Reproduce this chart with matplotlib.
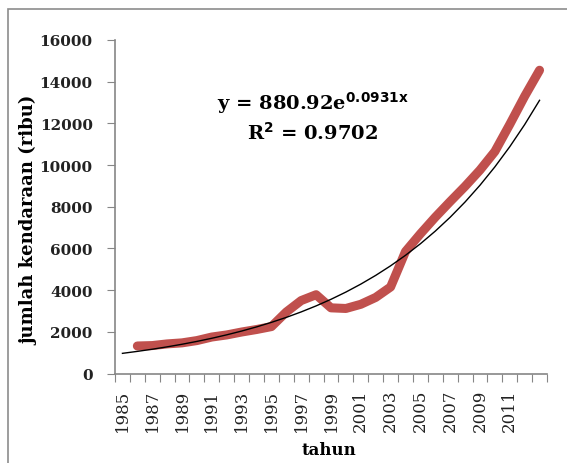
import numpy as np
import matplotlib.pyplot as plt
from matplotlib.patches import Rectangle

# kategori tahun pada sumbu x (1985 kosong, data mulai 1986)
years = list(range(1985, 2014))
tick_labels = ['1985', '', '1987', '', '1989', '', '1991', '', '1993', '', '1995', '',
               '1997', '', '1999', '', '2001', '', '2003', '', '2005', '', '2007', '',
               '2009', '', '2011', '', '']

# jumlah kendaraan (ribu), 1986-2013
data_years = list(range(1986, 2014))
kendaraan = [1320, 1340, 1420, 1470, 1580, 1750, 1850, 1990, 2110, 2250,
             2950, 3500, 3780, 3150, 3120, 3320, 3650, 4150, 5850, 6700,
             7500, 8250, 8980, 9760, 10650, 11950, 13300, 14550]

# trendline eksponensial: y = a * e^(b x), x = 1..29
trend_a = 880.92
trend_b = 0.0931

y_ticks = [0, 2000, 4000, 6000, 8000, 10000, 12000, 14000, 16000]

GREY = '#868686'
RED = '#C0504D'

fig = plt.figure(figsize=(5.67, 4.64), dpi=100)
fig.patches.append(Rectangle((8 / 567, -0.1), 1.2, 1 - 10 / 464 + 0.1,
                             transform=fig.transFigure, fill=False,
                             edgecolor='#8c8c8c', linewidth=1.2))

ax = fig.add_axes([115 / 567, 1 - 374.5 / 464, 432 / 567, 333.5 / 464])

x_data = np.array([years.index(y) for y in data_years]) + 0.5
ax.plot(x_data, kendaraan, color=RED, linewidth=6.5, solid_capstyle='round',
        solid_joinstyle='round', zorder=2)

x_trend = np.arange(1, len(years) + 1)
trend = trend_a * np.exp(trend_b * x_trend)
ax.plot(x_trend - 0.5, trend, color='black', linewidth=1.0, zorder=3)

ax.set_xlim(0, len(years))
ax.set_ylim(0, 16000)

ax.set_xticks(np.arange(0, len(years) + 1))
ax.set_xticklabels([])
ax.set_xticks(np.arange(len(years)) + 0.5, minor=True)
ax.set_xticklabels(tick_labels, minor=True, rotation=90, fontsize=12,
                   family='DejaVu Serif', color='#222222')
ax.tick_params(axis='x', which='major', direction='out', length=6, color=GREY)
ax.tick_params(axis='x', which='minor', length=0, pad=11)

ax.set_yticks(y_ticks)
ax.set_yticklabels([str(v) for v in y_ticks], fontsize=11, fontweight='bold',
                   family='DejaVu Serif', color='#222222')
ax.tick_params(axis='y', direction='out', length=6, color=GREY, pad=10)

for side in ['top', 'right']:
    ax.spines[side].set_visible(False)
for side in ['left', 'bottom']:
    ax.spines[side].set_color(GREY)
    ax.spines[side].set_linewidth(1.2)

ax.set_xlabel('tahun', fontsize=12, fontweight='bold', family='DejaVu Serif')
ax.xaxis.set_label_coords((329 - 115) / 432, -(442 - 374.5) / 333.5)
ax.set_ylabel('jumlah kendaraan (ribu)', fontsize=13, fontweight='bold',
              family='DejaVu Serif')
ax.yaxis.set_label_coords(-(115 - 38) / 432, (374.5 - 220) / 333.5)

fig.text(313 / 567, 1 - 103 / 464, r'y = 880.92e$^{\mathbf{0.0931x}}$',
         ha='center', va='center', fontsize=14, fontweight='bold',
         family='DejaVu Serif')
fig.text(313 / 567, 1 - 133 / 464, r'R$^{\mathbf{2}}$ = 0.9702',
         ha='center', va='center', fontsize=14, fontweight='bold',
         family='DejaVu Serif')

fig.savefig('out.png', dpi=100)
